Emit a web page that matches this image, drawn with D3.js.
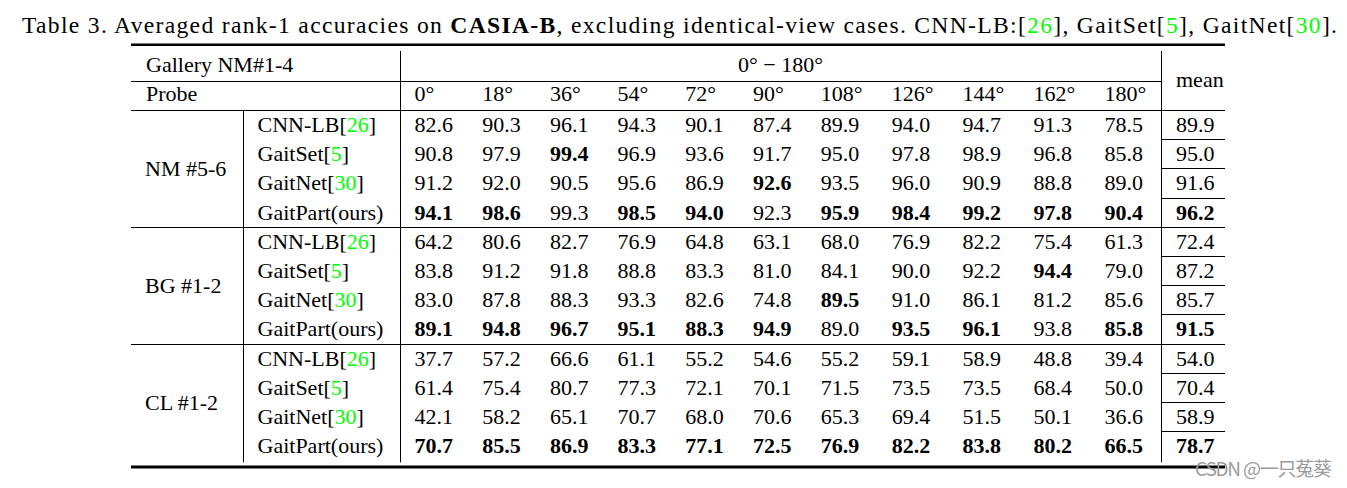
<!DOCTYPE html>
<html>
<head>
<meta charset="utf-8">
<script src="https://cdn.jsdelivr.net/npm/d3@7"></script>
<style>
  html, body { margin: 0; padding: 0; background: #fff; }
  svg { display: block; }
</style>
</head>
<body>
<svg id="chart" width="1347" height="488"></svg>
<script>
// ---------------- data ----------------
const angles = ["0°", "18°", "36°", "54°", "72°", "90°", "108°", "126°", "144°", "162°", "180°"];
const groups = ["NM #5-6", "BG #1-2", "CL #1-2"];
const methods = ["CNN-LB", "GaitSet", "GaitNet", "GaitPart(ours)"];
const methodRefs = ["26", "5", "30", ""];

const nmValues = [
  [82.6, 90.3, 96.1, 94.3, 90.1, 87.4, 89.9, 94.0, 94.7, 91.3, 78.5],
  [90.8, 97.9, 99.4, 96.9, 93.6, 91.7, 95.0, 97.8, 98.9, 96.8, 85.8],
  [91.2, 92.0, 90.5, 95.6, 86.9, 92.6, 93.5, 96.0, 90.9, 88.8, 89.0],
  [94.1, 98.6, 99.3, 98.5, 94.0, 92.3, 95.9, 98.4, 99.2, 97.8, 90.4]
];
const nmMean = [89.9, 95.0, 91.6, 96.2];

const bgValues = [
  [64.2, 80.6, 82.7, 76.9, 64.8, 63.1, 68.0, 76.9, 82.2, 75.4, 61.3],
  [83.8, 91.2, 91.8, 88.8, 83.3, 81.0, 84.1, 90.0, 92.2, 94.4, 79.0],
  [83.0, 87.8, 88.3, 93.3, 82.6, 74.8, 89.5, 91.0, 86.1, 81.2, 85.6],
  [89.1, 94.8, 96.7, 95.1, 88.3, 94.9, 89.0, 93.5, 96.1, 93.8, 85.8]
];
const bgMean = [72.4, 87.2, 85.7, 91.5];

const clValues = [
  [37.7, 57.2, 66.6, 61.1, 55.2, 54.6, 55.2, 59.1, 58.9, 48.8, 39.4],
  [61.4, 75.4, 80.7, 77.3, 72.1, 70.1, 71.5, 73.5, 73.5, 68.4, 50.0],
  [42.1, 58.2, 65.1, 70.7, 68.0, 70.6, 65.3, 69.4, 51.5, 50.1, 36.6],
  [70.7, 85.5, 86.9, 83.3, 77.1, 72.5, 76.9, 82.2, 83.8, 80.2, 66.5]
];
const clMean = [54.0, 70.4, 58.9, 78.7];

const groupValues = [nmValues, bgValues, clValues];
const groupMeans = [nmMean, bgMean, clMean];

const galleryLabel = "Gallery NM#1-4";
const probeLabel = "Probe";
const rangeLabel = "0° − 180°";
const meanLabel = "mean";
const watermark = "CSDN @一只菟葵";

// ---------------- layout / style ----------------
const FONT = "'Liberation Serif', 'Times New Roman', serif";
const FS = 22;
const GREEN = "#00ff00";
const L = { left: 131, right: 1225, groupCol: 243, methodCol: 400, meanCol: 1161,
            topRule: 44.8, headMid: 82, headBottom: 111, vTop: 51, bodyBottom: 461.4, bottomRule: 467,
            titleX: 22, titleY: 33, titleW: 1315 };

const fmt = d3.format(".1f");
const svg = d3.select("#chart");

// title
const title = svg.append("text")
  .attr("x", L.titleX).attr("y", L.titleY)
  .attr("font-family", FONT).attr("font-size", 23.6).attr("fill", "#000")
  .attr("textLength", L.titleW).attr("lengthAdjust", "spacing");
const titleParts = [
  { t: "Table 3. Averaged rank-1 accuracies on " },
  { t: "CASIA-B", b: true },
  { t: ", excluding identical-view cases. CNN-LB:[" },
  { t: "26", g: true }, { t: "], GaitSet[" }, { t: "5", g: true },
  { t: "], GaitNet[" }, { t: "30", g: true }, { t: "]." }
];
titleParts.forEach(p => {
  title.append("tspan").text(p.t)
    .attr("font-weight", p.b ? "bold" : null)
    .attr("fill", p.g ? GREEN : null);
});

// text measurement helper
const measurer = svg.append("text").attr("font-family", FONT).attr("font-size", FS).attr("visibility", "hidden");
function textWidth(s, bold) {
  measurer.attr("font-weight", bold ? "bold" : "normal").text(s);
  return measurer.node().getComputedTextLength();
}

// bold flags: best value per column within each group
const colMax = groupValues.map(g => angles.map((a, j) => d3.max(g, r => r[j])));
const meanMax = groupMeans.map(m => d3.max(m));

// column widths from content, LaTeX-like
const contentW = angles.map((a, j) => {
  let w = textWidth(a, false);
  groupValues.forEach(g => g.forEach(r => { w = Math.max(w, textWidth(fmt(r[j]), true)); }));
  return w;
});
const span = L.meanCol - L.methodCol;
const pad = (span - d3.sum(contentW)) / angles.length;
const cum = [0];
contentW.forEach(w => cum.push(cum[cum.length - 1] + w + pad));
const xCol = d3.scaleLinear().domain([0, cum[cum.length - 1]]).range([L.methodCol, L.meanCol]);
const colX = angles.map((a, j) => xCol(cum[j]) + pad / 2);

// row scale
const nRows = groups.length * methods.length;
const yRow = d3.scaleLinear().domain([0, nRows]).range([L.headBottom, L.bodyBottom]);
const baseOff = 21;

const g = svg.append("g").attr("font-family", FONT).attr("font-size", FS).attr("fill", "#000");

// header texts
g.append("text").attr("x", L.left + 15).attr("y", 72).text(galleryLabel);
g.append("text").attr("x", L.left + 15).attr("y", 101).text(probeLabel);
g.append("text").attr("x", (L.methodCol + L.meanCol) / 2).attr("y", 72).attr("text-anchor", "middle").text(rangeLabel);
g.append("text").attr("x", L.meanCol + 15).attr("y", 86.5).text(meanLabel);
g.selectAll("text.ang").data(angles).join("text").attr("class", "ang")
  .attr("x", (d, j) => colX[j]).attr("y", 101).text(d => d);

// body
groups.forEach((grp, gi) => {
  const top = yRow(gi * methods.length), bot = yRow((gi + 1) * methods.length);
  g.append("text").attr("x", L.left + 14).attr("y", (top + bot) / 2 + 6.5).text(grp);
  methods.forEach((m, mi) => {
    const ri = gi * methods.length + mi;
    const y = yRow(ri) + baseOff;
    const t = g.append("text").attr("x", L.groupCol + 14.5).attr("y", y);
    if (methodRefs[mi]) {
      t.append("tspan").text(m + "[");
      t.append("tspan").attr("fill", GREEN).text(methodRefs[mi]);
      t.append("tspan").text("]");
    } else {
      t.text(m);
    }
    const vals = groupValues[gi][mi];
    g.selectAll(null).data(vals).join("text")
      .attr("x", (d, j) => colX[j]).attr("y", y)
      .attr("font-weight", (d, j) => d === colMax[gi][j] ? "bold" : null)
      .text(d => fmt(d));
    const mv = groupMeans[gi][mi];
    g.append("text").attr("x", L.meanCol + 15).attr("y", y)
      .attr("font-weight", mv === meanMax[gi] ? "bold" : null)
      .text(fmt(mv));
  });
});

// rules
const lines = svg.append("g").attr("stroke", "#000").attr("fill", "none");
function hline(x1, x2, y, w) { lines.append("line").attr("x1", x1).attr("x2", x2).attr("y1", y).attr("y2", y).attr("stroke-width", w); }
function vline(x, y1, y2, w) { lines.append("line").attr("x1", x).attr("x2", x).attr("y1", y1).attr("y2", y2).attr("stroke-width", w); }
const crisp = v => Math.round(v) - 0.5;

hline(L.left, L.right, L.topRule, 2.6);
hline(L.left, L.meanCol, crisp(L.headMid), 1);
hline(L.left, L.right, crisp(L.headBottom), 1);
for (let gi = 1; gi < groups.length; gi++) hline(L.left, L.right, crisp(yRow(gi * methods.length)), 1);
for (let ri = 1; ri < nRows; ri++) {
  if (ri % methods.length !== 0) hline(L.meanCol, L.right, crisp(yRow(ri)), 1);
}
hline(L.left, L.right, L.bottomRule, 3.2);
vline(L.methodCol + 0.5, L.vTop, L.bodyBottom + 1, 1);
vline(L.meanCol + 0.5, L.vTop, L.bodyBottom + 1, 1);
vline(L.groupCol + 0.5, L.headBottom, L.bodyBottom + 1, 1);

// watermark
svg.append("text").attr("x", 1195).attr("y", 475.5)
  .attr("font-family", "'Noto Sans CJK SC', 'Noto Sans', sans-serif").attr("font-size", 19)
  .attr("textLength", 137).attr("lengthAdjust", "spacing")
  .attr("fill", "#9c9c9c").text(watermark);

measurer.remove();
</script>
</body>
</html>
